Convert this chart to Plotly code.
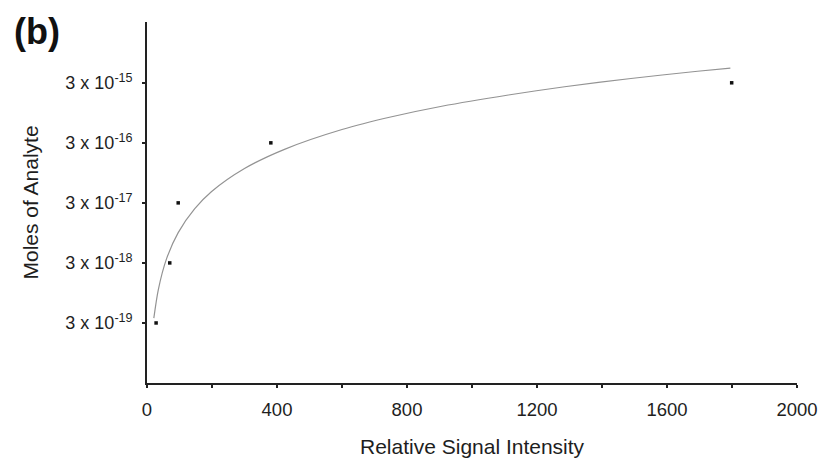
import plotly.graph_objects as go

# Measured data points
signal = [28, 70, 96, 381, 1799]
moles = [3e-19, 3e-18, 3e-17, 3e-16, 3e-15]

# Fitted trend curve
curve_x = [21, 35, 60, 96, 147, 198, 300, 423, 600, 753, 907, 1112, 1285, 1489, 1694, 1795]
curve_y = [3.6e-19, 1.09e-18, 3.5e-18, 9.6e-18, 2.4e-17, 4.6e-17, 1.12e-16, 2.34e-16,
           5.0e-16, 8.15e-16, 1.22e-15, 1.88e-15, 2.58e-15, 3.54e-15, 4.67e-15, 5.28e-15]

ytick_vals = [3e-19, 3e-18, 3e-17, 3e-16, 3e-15]
ytick_text = ["3 x 10<sup>-19</sup>", "3 x 10<sup>-18</sup>", "3 x 10<sup>-17</sup>",
              "3 x 10<sup>-16</sup>", "3 x 10<sup>-15</sup>"]
xtick_vals = [0, 400, 800, 1200, 1600, 2000]

font = "Liberation Sans, Arial, sans-serif"
ink = "#1e1e1e"
axis_col = "#222222"

fig = go.Figure()
fig.add_trace(go.Scatter(x=curve_x, y=curve_y, mode="lines",
                         line=dict(color="#939393", width=1.2, shape="spline", smoothing=0.8),
                         showlegend=False, hoverinfo="skip"))
fig.add_trace(go.Scatter(x=signal, y=moles, mode="markers",
                         marker=dict(color="#111111", size=3.5, symbol="square"),
                         showlegend=False))

fig.update_layout(
    width=819, height=458,
    margin=dict(l=147, r=22, t=22, b=75, pad=0),
    paper_bgcolor="white", plot_bgcolor="white",
    font=dict(family=font, color=ink, size=17),
    xaxis=dict(range=[0, 2000], tickvals=xtick_vals, ticktext=[str(v) for v in xtick_vals],
               showgrid=False, zeroline=False, showline=True, linecolor=axis_col, linewidth=1.6,
               ticks="outside", ticklen=3, tickcolor=axis_col, tickwidth=1.5,
               minor=dict(dtick=200, ticks="outside", ticklen=3, tickcolor=axis_col, tickwidth=1.5),
               ticklabelstandoff=6, ticklabeloverflow="allow",
               tickfont=dict(size=18.5, color=ink), automargin=False, fixedrange=True),
    yaxis=dict(type="log", range=[-19.523, -13.51], tickvals=ytick_vals, ticktext=ytick_text,
               showgrid=False, zeroline=False, showline=True, linecolor=axis_col, linewidth=1.6,
               ticks="outside", ticklen=3, tickcolor=axis_col, tickwidth=1.5,
               ticklabelstandoff=6, ticklabeloverflow="allow",
               tickfont=dict(size=18, color=ink), automargin=False, fixedrange=True),
    annotations=[
        dict(text="<b>(b)</b>", xref="paper", yref="paper", x=0, y=1, xshift=-110, yshift=-9,
             xanchor="center", yanchor="middle", showarrow=False,
             font=dict(size=36, family=font, color="#111111")),
        dict(text="Moles of Analyte", xref="paper", yref="paper", x=0, y=0.5, xshift=-117,
             xanchor="center", yanchor="middle", textangle=-90, showarrow=False,
             font=dict(size=21, family=font, color=ink)),
        dict(text="Relative Signal Intensity", xref="paper", yref="paper", x=0.5, y=0, yshift=-63,
             xanchor="center", yanchor="middle", showarrow=False,
             font=dict(size=21, family=font, color=ink)),
    ],
)

fig.write_html("out.html")
